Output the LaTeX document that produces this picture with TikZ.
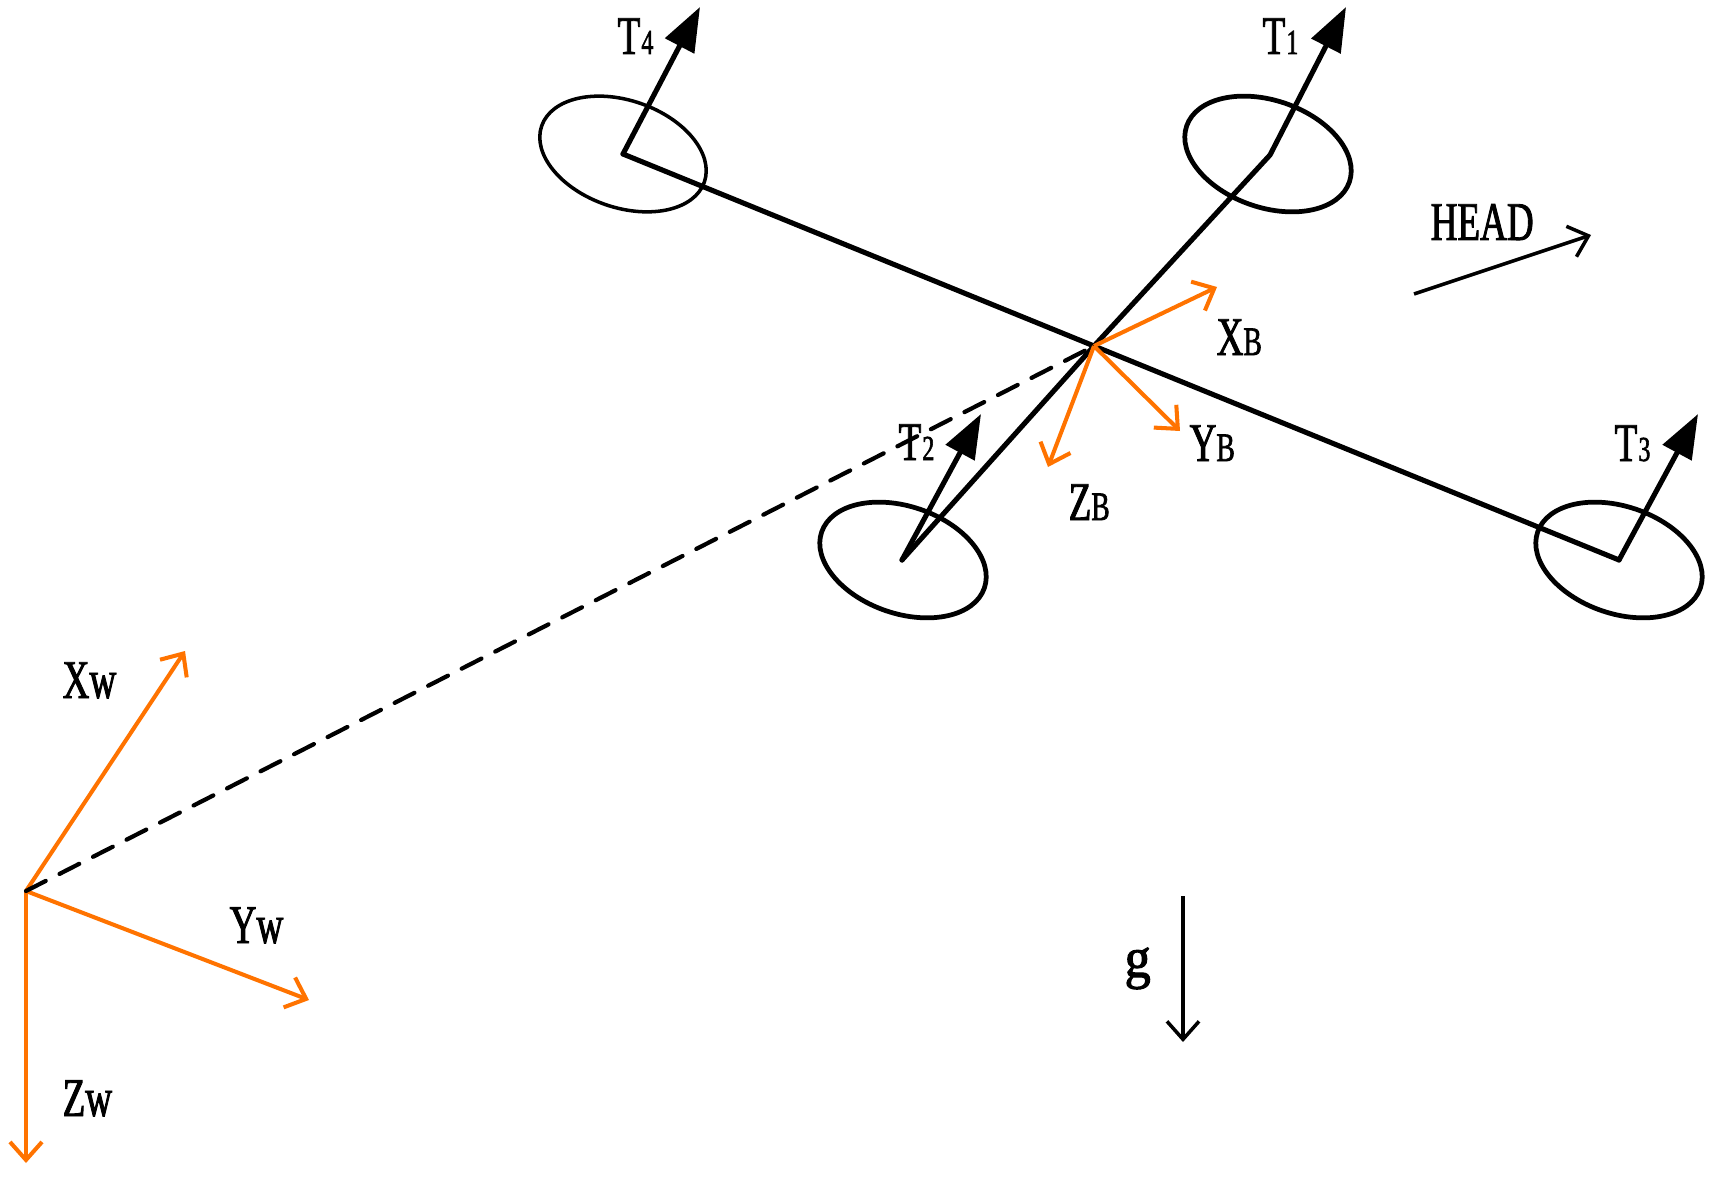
\documentclass[tikz,border=0pt]{standalone}
\usepackage{fontspec}
\usepackage{graphicx}
\setmainfont[FakeStretch=0.68,FakeBold=1.6]{Liberation Serif}
\usetikzlibrary{arrows.meta,shapes.geometric}
\definecolor{axisorange}{HTML}{FF7300}
\newcommand{\smallB}[1]{{\fontsize{11.5}{12}\selectfont #1}}
\newcommand{\smallT}[1]{{\fontsize{10}{10}\selectfont\hspace{0.3pt}#1}}
\tikzset{
  arm/.style={line width=1.45pt,line join=round,line cap=round},
  thrust/.style={arm,-{Triangle[length=4.4mm,width=3.2mm]}},
  axis/.style={draw=axisorange,line width=1.15pt,-{Straight Barb[length=1.8mm,width=3.2mm,line width=1.15pt]}},
  plainarrow/.style={line width=1pt,-{Straight Barb[length=1.8mm,width=3.2mm,line width=1pt]}},
  rotor/.style={draw,ellipse,inner sep=0pt,minimum width=1.72cm,minimum height=1.07cm,rotate=-19,line width=1.35pt},
  lab/.style={anchor=base west,inner sep=0pt,font=\fontsize{15.5}{16}\selectfont}
}
\begin{document}
\begin{tikzpicture}[x=0.01cm, y=-0.01cm]
  \useasboundingbox (0,0) rectangle (1721,1179);
  % points
  \coordinate (hub) at (1094,346);
  \coordinate (p4) at (623,154);
  \coordinate (p3) at (1619,560);
  \coordinate (p2) at (902,560);
  \coordinate (bend) at (1270,155);
  \coordinate (world) at (26,891);
  \coordinate (t4) at (700,7);
  \coordinate (t1) at (1346,7);
  \coordinate (t2) at (981,414);
  \coordinate (t3) at (1698,414);
  \coordinate (xb) at (1217,287);
  \coordinate (yb) at (1180,431);
  \coordinate (zb) at (1048,467);
  \coordinate (xw) at (185,651);
  \coordinate (yw) at (309,1000);
  \coordinate (zw) at (26,1163);
  \coordinate (gs) at (1183,896);
  \coordinate (ge) at (1183,1042);
  \coordinate (hs) at (1414,294);
  \coordinate (he) at (1591,235);
  % rotors
  \node[rotor,line width=1pt] (r4) at (623,154) {};
  \node[rotor] (r1) at (1268,154) {};
  \node[rotor] (r2) at (903,560) {};
  \node[rotor] (r3) at (1619,560) {};
  % world frame
  \draw[axis] (world) -- (xw);
  \draw[axis] (world) -- (yw);
  \draw[axis] (world) -- (zw);
  \draw[line width=1.2pt,line cap=round,dash pattern=on 6.3pt off 4.4pt] (world) -- (hub);
  % body
  \draw[arm] (p4) -- (p3);
  \draw[arm] (hub) -- (p2);
  \draw[thrust] (hub) -- (bend) -- (t1);
  \draw[thrust] (p4) -- (t4);
  \draw[thrust] (p2) -- (t2);
  \draw[thrust] (p3) -- (t3);
  % body frame
  \draw[axis] (hub) -- (xb);
  \draw[axis] (hub) -- (yb);
  \draw[axis] (hub) -- (zb);
  \draw[plainarrow] (gs) -- (ge);
  \draw[plainarrow] (hs) -- (he);
  % labels
  \node[lab] (lt4) at (617,54) {T\smallT{4}};
  \node[lab] (lt1) at (1262,54) {T\smallT{1}};
  \node[lab] (lt2) at (898,460) {T\smallT{2}};
  \node[lab] (lt3) at (1614,461) {T\smallT{3}};
  \node[lab] (lxb) at (1216,355) {X\smallB{B}};
  \node[lab] (lyb) at (1189,461) {Y\smallB{B}};
  \node[lab] (lzb) at (1068,520) {Z\smallB{B}};
  \node[lab] (lhead) at (1430,240) {HEAD};
  \node[lab] (lxw) at (62,698) {Xw};
  \node[lab] (lyw) at (229,943) {Yw};
  \node[lab] (lzw) at (62,1116) {Zw};
  \node[lab] (lg) at (1124,977) {\scalebox{1.4}[1.05]{g}};
\end{tikzpicture}
\end{document}
